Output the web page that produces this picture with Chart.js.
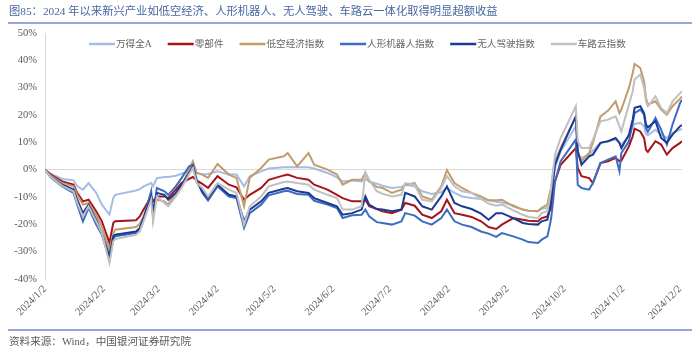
<!DOCTYPE html>
<html><head><meta charset="utf-8">
<script src="https://cdn.jsdelivr.net/npm/chart.js@4.4.1/dist/chart.umd.min.js"></script>
<style>
html,body{margin:0;padding:0;background:#fff;width:700px;height:356px;overflow:hidden;}
#wrap{position:relative;width:700px;height:356px;}
#title{position:absolute;left:9px;top:4px;font-size:11.3px;font-family:"Liberation Serif","Noto Sans CJK SC";color:#4A67A1;white-space:nowrap;line-height:14px;}
#tline{position:absolute;left:8px;top:22px;width:684px;height:2px;background:#94A9D3;}
#fline{position:absolute;left:8px;top:329px;width:684px;height:2px;background:#94A9D3;}
#source{position:absolute;left:9px;top:335px;font-size:10.6px;font-family:"Liberation Serif","Noto Sans CJK SC";color:#595959;white-space:nowrap;line-height:13px;}
canvas{position:absolute;left:0;top:0;}
</style></head>
<body><div id="wrap">
<canvas id="c" width="700" height="356"></canvas>
<div id="title">图85：2024 年以来新兴产业如低空经济、人形机器人、无人驾驶、车路云一体化取得明显超额收益</div>
<div id="tline"></div>
<div id="fline"></div>
<div id="source">资料来源：Wind，中国银河证券研究院</div>
</div>
<script>
const dates = ['2024/1/2','2024/1/5','2024/1/11','2024/1/17','2024/1/19','2024/1/22','2024/1/25','2024/1/29','2024/2/1','2024/2/5',
'2024/2/7','2024/2/8','2024/2/19','2024/2/21','2024/2/23','2024/2/27','2024/2/28','2024/3/1','2024/3/5','2024/3/7',
'2024/3/11','2024/3/14','2024/3/18','2024/3/20','2024/3/22','2024/3/25','2024/3/28','2024/4/2','2024/4/8','2024/4/12',
'2024/4/16','2024/4/19','2024/4/25','2024/4/29','2024/5/7','2024/5/9','2024/5/14','2024/5/20','2024/5/23','2024/5/30',
'2024/6/4','2024/6/7','2024/6/12','2024/6/17','2024/6/19','2024/6/21','2024/6/25','2024/6/28','2024/7/3','2024/7/8',
'2024/7/10','2024/7/15','2024/7/19','2024/7/24','2024/7/29','2024/8/1','2024/8/5','2024/8/9','2024/8/14','2024/8/19',
'2024/8/23','2024/8/27','2024/8/30','2024/9/5','2024/9/10','2024/9/13','2024/9/18','2024/9/20','2024/9/23','2024/9/24',
'2024/9/25','2024/9/26','2024/9/27','2024/9/30','2024/10/8','2024/10/9','2024/10/11','2024/10/15','2024/10/17','2024/10/21',
'2024/10/25','2024/10/29','2024/10/31','2024/11/1','2024/11/5','2024/11/7','2024/11/8','2024/11/11','2024/11/13','2024/11/14',
'2024/11/15','2024/11/19','2024/11/22','2024/11/25','2024/11/28','2024/12/2','2024/12/3'];

const tickLabels = ['2024/1/2','2024/2/2','2024/3/2','2024/4/2','2024/5/2','2024/6/2','2024/7/2','2024/8/2','2024/9/2','2024/10/2','2024/11/2','2024/12/2'];
const yTicks = [-40,-30,-20,-10,0,10,20,30,40,50];

const seriesNames = ['万得全A','零部件','低空经济指数','人形机器人指数','无人驾驶指数','车路云指数'];

const windA = [0,-1.5,-3.4,-3.9,-6.1,-7.3,-4.9,-8.5,-12.8,-16.5,
-10.4,-9.2,-7.6,-7.1,-6.1,-4.9,-6.1,-3.1,-2.7,-2.7,
-2.2,-1.5,-0.6,-0.2,-1.2,-1.8,-1.6,-0.6,-1.8,-1.8,
-6.1,-2.4,-0.6,0.4,0.9,0.9,0.9,0.9,0.4,-1.2,
-2.8,-4.3,-4.0,-4.3,-3.4,-4.3,-5.1,-5.9,-6.7,-6.3,
-5.5,-6.1,-7.9,-8.9,-8.3,-6.7,-8.5,-9.8,-10.4,-10.7,
-11.2,-11.7,-12,-13,-14.6,-15,-15.2,-14.3,-14,-11.6,
-9.2,-3.1,0.6,6.7,15.9,5.5,4.3,5.5,7.0,9.8,
10.4,11,9.8,9.2,12.2,15.9,16.7,17.1,15.9,13,
12.6,14.6,12.8,11.6,13.4,14.6,15];

const parts = [0,-1.8,-4.3,-5.5,-8.5,-11.6,-11,-15.2,-18.9,-26.8,
-19.5,-18.9,-18.5,-17.1,-14.6,-9.8,-11.6,-9.8,-9.8,-10.4,
-7.3,-4.9,-3.4,-2.7,-3.9,-5.2,-6.7,-2.4,-5.5,-6.5,
-11,-9.2,-6.7,-3.7,-2.1,-1.8,-3.0,-3.7,-5.5,-7.3,
-9.2,-10.4,-11.6,-11.6,-11,-13.4,-14.4,-15.2,-15.9,-14.6,
-12.2,-13.2,-16.5,-17.7,-15.2,-11,-15.9,-16.5,-17.3,-18.9,
-21,-21.7,-20.1,-17.7,-18.3,-18.7,-18.9,-17.7,-17.1,-15.2,
-14,-7.9,-4.3,1.8,7.9,0.6,-2.4,-3.1,-4.9,2.4,
3.1,4.3,3.1,3.3,8.5,12.2,15,14,11.6,7.3,
6.5,10.4,9.2,5.5,7.9,9.8,10.4];

const lowAltitude = [0,-2.2,-4.9,-6.1,-9.2,-12.8,-12.2,-16.5,-20.7,-29.3,
-23.2,-22,-21,-19.8,-17.1,-11,-14,-11,-11.6,-12.8,
-8.5,-6.1,0,3.1,-1.2,-1.8,-3.0,2.1,-1.8,-3.0,
-13.4,-3.0,0.6,3.7,4.9,6.1,1.2,6.1,1.8,0,
-1.8,-5.5,-3.7,-3.7,-1.2,-4.3,-6.3,-6.7,-8.5,-7.3,
-5.5,-4.9,-9.8,-11,-6.1,-0.2,-4.9,-6.7,-8.5,-9.8,
-11.2,-11.2,-11,-13.4,-14.6,-15,-15.2,-14,-12.8,-9.2,
-6.7,-0.6,3.1,7.9,19.5,6.7,3.1,6.1,9.8,19.5,
21.6,25,20.7,22,29.9,35.4,38.7,37.2,32.3,26.2,
23.8,25,22,20.1,23.2,26,26.8];

const humanoid = [0,-2.8,-6.1,-8.5,-12.8,-18.9,-14,-20.1,-23.8,-32.9,
-25.6,-24.4,-23.2,-22,-17.7,-7.9,-17.1,-6.7,-7.9,-9.2,
-6.1,-3.1,1.2,1.8,-3.7,-8.5,-11.3,-6.1,-9.8,-10.4,
-21.3,-15.9,-12.8,-9.4,-7.9,-7.7,-8.9,-9.2,-11.4,-12.8,
-14,-17.7,-16.7,-16.5,-14.6,-17.1,-19.2,-19.5,-20.1,-18.9,
-15.9,-16.8,-18.9,-20.1,-17.7,-14.6,-18.9,-20.1,-21,-22.6,
-23.4,-24.6,-23.2,-24.4,-25.6,-26.5,-26.8,-25.6,-24.4,-21.3,
-17.7,-11.6,-4.3,3.1,11,-5.5,-6.7,-7.3,-4.9,2.4,
3.7,4.9,-0.6,6.1,10.4,17.1,20.7,22,20.1,15.2,
13.8,18.9,14.6,9.2,16.5,24.4,25.6];

const autoDrive = [0,-2.5,-5.5,-7.3,-11,-15.9,-12.8,-18.3,-23.2,-31.7,
-24.4,-23.8,-22.6,-21.3,-17.7,-9.8,-15.2,-8.5,-9.2,-11,
-8.5,-5.5,-1.2,1.2,-4.3,-7.9,-10.4,-5.5,-9.2,-9.8,
-18.9,-14.6,-11.6,-8.5,-7.0,-6.7,-7.9,-8.5,-10.4,-12.2,
-13.4,-16.5,-15.9,-14.6,-9.8,-12.8,-14.4,-14.6,-15.2,-14.6,
-8.5,-9.8,-13.4,-14.6,-9.8,-6.1,-12.2,-13.4,-14.4,-16.1,
-18.3,-15.9,-15.9,-17.7,-19.5,-19.9,-20.1,-18.9,-18.3,-15.2,
-10.4,-4.3,1.8,7.3,19.5,6.7,1.8,4.9,5.5,9.8,
10.4,11.6,9.8,7.9,12.8,18.3,22.6,23.2,20.7,16.5,
15.5,17.7,11.6,9.8,12.8,15.9,16.3];

const vehicleRoadCloud = [0,-2.6,-5.9,-7.9,-12.2,-17.1,-13.4,-18.9,-23.2,-34.1,
-26.2,-25.4,-23.8,-22.6,-18.9,-11,-18.9,-9.8,-12.2,-13.4,
-9.8,-6.7,-1.8,0.6,-4.9,-6.7,-9.8,-4.9,-7.3,-8.5,
-20.1,-13.4,-9.8,-6.1,-4.5,-4.3,-4.9,-5.5,-7.3,-9.2,
-10.4,-14.6,-14.6,-13.4,-1.0,-3.7,-7.9,-8.8,-9.8,-9.2,
-4.9,-5.5,-11,-11.6,-6.7,-2.4,-6.1,-7.9,-8.5,-10.7,
-12.4,-13.2,-12.8,-14.9,-16.5,-17.3,-17.7,-15.9,-15.2,-11.6,
-6.7,-0.6,5.5,11.6,23.2,10.4,7.9,7.9,11,17.7,
18.3,19.5,15.9,14,23.8,28.7,33,34.8,29.9,25,
23.2,26.8,22.6,20.7,25,28,28.7];

const seriesValues = [windA, parts, lowAltitude, humanoid, autoDrive, vehicleRoadCloud];
const seriesColors = ['#A3BDE6','#A5141B','#C39C6C','#3D6CC0','#1C3A94','#C0C0C0'];

function dayOf(s){
  const p = s.split('/').map(Number);
  return Math.round((Date.UTC(p[0],p[1]-1,p[2]) - Date.UTC(2024,0,2)) / 86400000);
}
const tickDays = tickLabels.map(dayOf);
const labelByDay = {};
tickLabels.forEach((t,i)=>{ labelByDay[tickDays[i]] = t; });
const xs = dates.map(dayOf);

const datasets = seriesNames.map((name, k) => ({
  label: name,
  data: xs.map((x,i)=>({x: x, y: seriesValues[k][i]})),
  borderColor: seriesColors[k],
  backgroundColor: seriesColors[k],
  borderWidth: 2,
  pointRadius: 0,
  tension: 0,
  fill: false,
  order: seriesNames.length - k
}));

const inlineLegend = {
  id: 'inlineLegend',
  afterDraw(chart){
    const ctx = chart.ctx;
    ctx.save();
    ctx.font = '9.6px "Liberation Serif", "Noto Sans CJK SC"';
    ctx.textBaseline = 'middle';
    let x = 89;
    const y = 44;
    chart.data.datasets.forEach(ds => {
      ctx.strokeStyle = ds.borderColor;
      ctx.lineWidth = 2.5;
      ctx.beginPath();
      ctx.moveTo(x, y);
      ctx.lineTo(x + 26, y);
      ctx.stroke();
      ctx.fillStyle = '#666666';
      ctx.fillText(ds.label, x + 27, y + 0.5);
      x += 27 + ctx.measureText(ds.label).width + 16;
    });
    ctx.restore();
  }
};

new Chart(document.getElementById('c'), {
  type: 'line',
  data: { datasets },
  options: {
    responsive: false,
    animation: false,
    devicePixelRatio: 1,
    layout: { padding: { top: 33, right: 18, bottom: 0, left: 0 } },
    plugins: { legend: { display: false }, tooltip: { enabled: false }, title: { display: false } },
    scales: {
      x: {
        type: 'linear',
        min: 0,
        max: xs[xs.length-1],
        afterBuildTicks: sc => { sc.ticks = tickDays.map(v => ({ value: v })); },
        afterFit: sc => { sc.height = 77; },
        ticks: {
          autoSkip: false, maxRotation: 45, minRotation: 45, padding: 4,
          color: '#595959',
          font: { family: '"Liberation Serif"', size: 10.5 },
          callback: v => labelByDay[v] || ''
        },
        grid: { display: false, drawTicks: false },
        border: { display: false }
      },
      y: {
        min: yTicks[0],
        max: yTicks[yTicks.length-1],
        afterBuildTicks: sc => { sc.ticks = yTicks.map(v => ({ value: v })); },
        afterFit: sc => { sc.width = 45; },
        ticks: {
          padding: 8,
          color: '#595959',
          font: { family: '"Liberation Serif"', size: 10.5 },
          callback: v => v + '%'
        },
        grid: {
          drawTicks: false,
          lineWidth: 1,
          color: c => (c.tick && c.tick.value === 0) ? '#D9D9D9' : 'rgba(0,0,0,0)'
        },
        border: { display: true, color: '#D9D9D9', width: 1 }
      }
    }
  },
  plugins: [inlineLegend]
});
</script>
</body></html>
